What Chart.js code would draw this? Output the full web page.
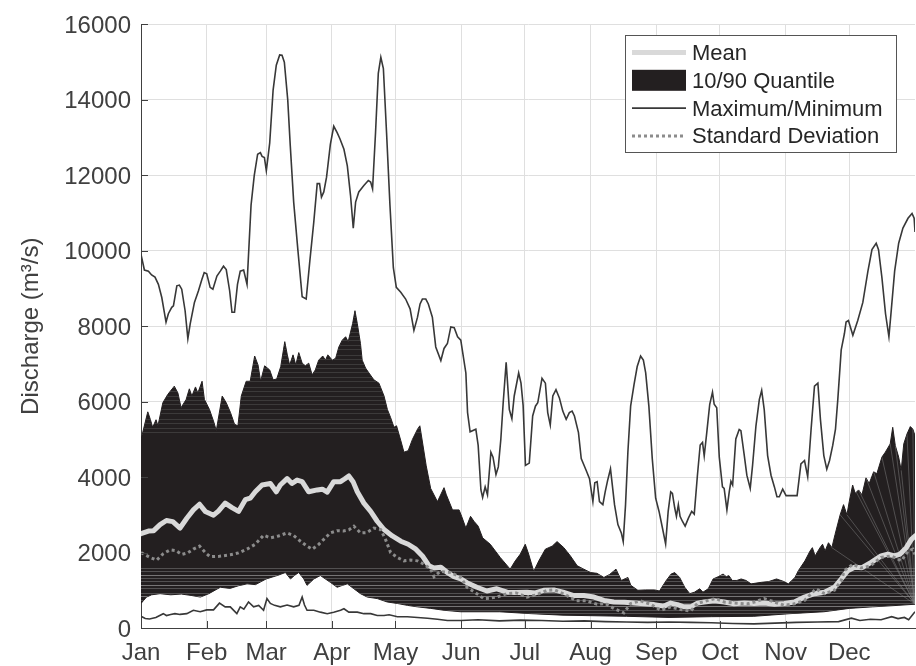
<!DOCTYPE html>
<html>
<head>
<meta charset="utf-8">
<title>Daily discharge statistics</title>
<script src="https://cdn.jsdelivr.net/npm/chart.js@4.4.1/dist/chart.umd.min.js"></script>
<style>
  html, body { margin: 0; padding: 0; background: #ffffff; }
  #wrap { width: 916px; height: 666px; }
</style>
</head>
<body>
<div id="wrap"><canvas id="chart" width="916" height="666"></canvas></div>
<script>
// Month labels on the day-of-year axis
const monthLabels = ['Jan','Feb','Mar','Apr','May','Jun','Jul','Aug','Sep','Oct','Nov','Dec'];
const monthStartDays = [1, 32, 60, 91, 121, 152, 182, 213, 244, 274, 305, 335];
const yTickStep = 2000;

// Daily discharge statistics, [day of year, m3/s]
const maximum = [
  [1,9900],[2.6,9490],[4.5,9460],[6,9360],[7.6,9300],[9.2,9110],[10.8,8760],[12.8,8110],[13.9,8330],[15.5,8500],
  [16.3,8540],[17.9,9070],[19.1,9090],[20.2,8980],[21.8,8410],[23.1,7670],[24.2,8060],[26.2,8630],[28.1,8940],[29.7,9240],
  [30.8,9420],[32,9390],[33.6,9030],[34.9,8980],[36.8,9330],[38.4,9460],[39.9,9590],[41.2,9500],[42.8,8940],[43.9,8370],
  [45.1,8370],[46.5,9110],[47.8,9460],[49.4,9490],[51,9110],[52.9,11210],[54.4,11990],[56,12560],[57.3,12600],[58.1,12500],
  [59.2,12470],[60.1,12120],[61.7,12860],[63.3,14260],[64.8,14920],[66.4,15190],[67.5,15180],[68.6,15000],[70.2,14000],[71.4,12780],
  [73,11290],[74.9,10070],[77,8780],[78.9,8720],[80.6,9720],[82.5,10770],[84.1,11780],[85.2,11780],[86.1,11420],[87.2,11560],
  [88.5,11950],[90.3,12820],[91.9,13300],[93.5,13130],[94.8,12970],[96.7,12690],[98.3,12250],[99.8,11470],[101.1,10600],[102.2,11290],
  [103.7,11560],[106.1,11730],[108.2,11860],[109.3,11820],[110.2,11640],[111.6,13130],[112.9,14700],[114.1,15130],[115.3,14830],[116.8,13130],
  [118.4,11210],[120,9550],[121.4,9030],[123.5,8900],[125.8,8720],[127.9,8460],[129.7,7890],[131.4,8240],[132.6,8590],[133.7,8720],
  [135.3,8720],[136.5,8590],[138.4,8240],[140,7450],[142.4,7090],[143.9,7410],[145.5,7540],[147.1,7980],[148.7,7960],[150.3,7720],
  [151.8,7630],[154.2,6760],[155,5710],[156.2,5200],[158.9,5270],[160,4840],[161.3,3660],[162.1,3460],[163.3,3740],[164.4,3530],
  [166,4660],[167,4530],[168.4,4070],[169.5,4270],[170.7,5010],[171.8,5970],[173.2,7040],[174.7,5790],[175.9,5550],[177,6150],
  [179.1,6760],[180.2,6490],[181.2,5900],[182.3,4310],[184.1,4370],[185.7,5620],[187,5880],[188.1,5970],[190.1,6620],[191.7,6490],
  [192.8,5710],[194,5380],[195.2,6150],[196.7,6320],[198.3,6100],[199.9,5750],[201.5,5530],[203,5710],[204.3,5750],[205.4,5620],
  [207.3,5180],[208.6,4490],[210.9,4180],[212.5,3960],[214.1,3350],[215,3850],[216.1,3880],[217.2,3350],[218.8,3270],[219.9,3610],
  [221,3900],[222.4,4220],[224.3,3270],[225.9,2740],[227.5,2520],[228.4,2290],[229.5,3270],[230.6,4660],[231.9,5880],[233.5,6450],
  [235,6930],[236.6,7210],[237.9,7100],[239,6760],[240.5,5880],[242.1,4490],[243.7,3440],[245.3,3090],[246.9,2650],[248.4,2230],
  [249.6,3090],[250.8,3610],[251.6,3570],[252.7,3180],[253.5,2960],[254.4,3270],[255.2,2960],[256.3,2830],[257.6,2700],[259.2,2920],
  [260.7,3090],[261.9,3020],[263.4,4050],[264.7,4850],[265.8,4920],[266.6,4560],[267.8,5180],[269.2,5930],[270.5,6250],[271.3,5930],
  [272.5,5840],[273.7,4530],[275.2,3740],[276,3700],[277.3,3130],[278.4,3610],[279.2,3890],[280,3790],[281.5,5010],[283.1,5260],
  [283.9,5230],[285.5,4570],[286.7,4050],[288.3,3700],[289.4,4310],[291,5360],[292.6,6060],[293.7,6300],[294.9,5790],[296.5,4570],
  [298.1,4050],[299.7,3740],[300.9,3480],[302,3480],[303.6,3680],[305.2,3510],[307.5,3510],[310.4,3510],[312.2,4350],[313.9,4440],
  [315.4,4010],[317,5270],[318.6,6410],[320.2,6490],[321.4,5530],[323,4570],[324.4,4210],[325.7,4440],[327.2,4840],[328.5,5270],
  [329.6,6060],[331.2,7370],[332.7,7800],[333.5,8110],[334.6,8150],[336.7,7760],[339,8150],[341.4,8630],[343.8,9460],[345.7,10030],
  [347.7,10200],[348.8,10030],[350.4,9290],[352.1,8330],[353.7,7720],[354.8,8420],[356.4,9460],[358.3,10200],[360.3,10600],[362.7,10860],
  [364.6,10990],[365.6,10860],[366,10500]
];

const minimum = [
  [1,310],[3,250],[5,240],[8,280],[11.5,380],[13,330],[15,360],[17,380],[19.4,360],[22.6,380],
  [25.7,470],[28.9,430],[32,480],[35.2,480],[38,660],[40.7,560],[43.1,560],[46.2,380],[47.8,560],[49.5,500],
  [51.7,690],[54.1,560],[56.5,600],[58.8,470],[60.4,780],[62,650],[64,600],[66.7,560],[69.9,610],[73,560],
  [75.5,600],[77,820],[78.1,610],[79.3,470],[82.5,470],[85.6,420],[88.8,380],[91.9,420],[95.1,470],[96.7,510],
  [99,420],[103,420],[106.1,380],[109.3,380],[112.4,330],[115.6,330],[118,350],[121.9,300],[126.6,300],[131.4,280],
  [136.1,260],[140.8,230],[145.5,200],[151.8,200],[160,220],[170,190],[180,210],[190,200],[200,180],[210,190],
  [220,170],[230,160],[240,150],[250,160],[260,150],[270,140],[280,120],[290,110],[300,130],[310,150],
  [320,160],[330,170],[336,260],[340,200],[345,230],[350,220],[355,300],[358,250],[361,280],[363,220],[366,430]
];

const quantile10 = [
  [1,650],[3.6,820],[6,880],[10,910],[15,880],[20,900],[25,860],[29,820],[33,910],[38.4,1080],
  [43,1050],[47,1120],[51,1170],[55,1150],[60,1300],[65.2,1390],[69.1,1470],[71.5,1300],[73.5,1400],[75.4,1470],
  [77.8,1300],[79.3,1130],[82.5,1300],[85.6,1390],[90.3,1210],[93.5,1080],[96,1130],[98.3,1170],[101.4,1040],[104.5,910],
  [107.7,820],[112.4,780],[117.1,690],[121.9,650],[126.6,600],[131.4,560],[137.6,520],[143.9,470],[151.8,430],[170,430],
  [185,380],[200,340],[230,310],[250,280],[270,300],[290,310],[307,380],[323,430],[335,520],[346,560],
  [358,600],[366,630]
];

const quantile90 = [
  [1,5000],[4.2,5730],[5.4,5530],[6.5,5320],[8.1,5520],[9,5360],[11.3,5970],[13.6,6190],[16,6360],[16.7,6410],
  [18.4,6230],[19.9,5840],[22.3,6060],[23.8,6340],[25,6150],[26.7,6390],[27.8,6230],[29.8,6540],[30.9,6060],[33.3,5790],
  [35.4,5450],[36.5,5230],[39.3,6150],[41.2,5970],[43.2,5710],[45.1,5400],[46.7,5360],[48.3,6150],[50.6,6540],[52.5,6540],
  [54.6,7210],[56.2,6970],[57.4,6540],[59.3,6950],[61.7,6840],[63.3,6580],[65,6600],[66.9,6930],[68.8,7590],[70,7240],
  [71.1,6970],[72.7,7240],[74,6970],[75.4,7300],[77,7020],[78.5,6950],[80.1,7020],[81.7,6710],[83.2,6840],[84.8,7100],
  [86.7,7210],[88,7100],[89.1,7240],[91.2,7100],[92.8,7150],[94.3,7450],[95.9,7630],[97.5,7720],[98.7,7590],[100.8,8070],
  [101.9,8410],[103,8070],[104.5,7540],[105.3,7100],[106.9,6890],[108.5,6760],[110.8,6580],[113.2,6490],[115.6,6150],[117.2,5790],
  [118.7,5580],[120.3,5320],[121.5,5360],[123.5,4970],[125,4660],[127,4700],[129,5000],[131.4,5270],[132.5,5360],[133.5,5010],
  [135.5,4300],[137.6,3700],[140.8,3350],[143.9,3720],[145,3530],[147.9,3130],[151,3130],[152.2,2960],[154.2,2650],[156.4,2960],
  [158,2830],[160,2700],[162.1,2390],[165.7,2220],[170.4,1870],[175.1,1560],[177.5,1780],[179.9,1960],[182.2,2220],[183.8,1960],
  [186.2,1500],[188.6,1780],[191.7,2090],[194.9,2170],[197.2,2290],[200.4,2130],[203.5,1910],[206.7,1650],[209.8,1560],[213,1470],
  [216,1450],[219.3,1340],[222,1420],[225,1560],[227.5,1260],[230.6,1340],[232,1130],[235.3,1000],[239,1010],[243.2,1010],
  [245.5,980],[248.7,1260],[251,1430],[252.7,1470],[255,1340],[257.4,1080],[259.8,910],[262,950],[264.5,1040],[266,950],
  [268.5,1040],[270.8,1300],[273.2,1360],[275.5,1430],[277,1360],[278.2,1390],[279.8,1260],[282,1260],[284,1300],[286.3,1260],
  [288.7,1170],[293.5,1210],[297,1230],[300.7,1300],[303.8,1240],[306.3,1170],[309.4,1340],[311,1520],[314.1,1780],[316.5,2040],
  [317.6,2130],[318.9,1910],[321.2,2130],[322.4,2220],[323.6,2040],[325.2,2260],[326.8,2130],[328.3,2480],[330.7,3000],[332.3,3270],
  [333.9,3000],[335,3350],[336.6,3790],[337.8,3570],[339.4,3660],[341,3530],[342.9,3980],[344.4,3830],[346.5,4140],[348,4090],
  [350.4,4530],[352,4660],[354.3,4880],[355.5,5320],[356.7,4840],[358.3,4530],[359.5,4180],[360.7,4880],[362.2,5140],[363.8,5340],
  [365,5270],[366,5100]
];

const mean = [
  [1,2500],[4.5,2570],[7,2580],[10,2740],[13,2850],[16,2820],[19.4,2650],[22.6,2910],[25.7,3130],[28.6,3280],
  [31.3,3090],[35.2,2990],[37.5,3100],[40.7,3310],[43.9,3190],[47,3090],[50.2,3400],[52.5,3440],[54.9,3610],[58.1,3790],
  [62,3830],[64.8,3610],[66.7,3790],[69.9,3960],[72.2,3830],[74.6,3920],[77,3880],[80.1,3610],[84.1,3660],[86.5,3680],
  [88.8,3600],[91.9,3880],[95.1,3880],[97,3950],[99,4030],[101,3880],[103,3610],[106.1,3310],[109.3,3090],[112.4,2830],
  [115.6,2610],[119.5,2440],[123.5,2300],[127,2220],[130.6,2090],[133.7,1910],[136.8,1650],[139.2,1590],[142.4,1610],[145.5,1470],
  [148.6,1360],[151.8,1300],[154.7,1200],[159.4,1080],[164.1,980],[168.8,1040],[173.6,950],[178,940],[183,950],[187,930],
  [190.9,1000],[195.7,1010],[200,950],[205.1,860],[209.8,860],[214.6,820],[219.3,730],[224,690],[229,680],[233.5,660],
  [238.2,640],[243,620],[247.6,580],[250.8,660],[254,620],[257,560],[260.2,560],[263.4,660],[266.6,690],[271.3,720],
  [276,690],[280.7,640],[285.5,660],[290.2,650],[295,660],[299.7,630],[304.4,650],[309.1,690],[313.9,820],[318.6,910],
  [323.3,950],[328,1080],[331.2,1300],[334.3,1520],[337.5,1610],[341,1600],[345.3,1740],[350,1910],[353.2,1960],[356.3,1910],
  [359,1960],[361.9,2130],[364.3,2350],[366,2440]
];

const standardDeviation = [
  [1,2000],[5.3,1870],[8.4,1800],[11.5,1970],[14.7,2070],[17.5,2050],[20.2,1950],[23,1990],[25.7,2090],[28.6,2170],
  [31.3,2000],[33.6,1890],[38,1900],[43.1,1940],[47,1990],[51,2090],[54.9,2220],[58.8,2460],[62,2390],[65.9,2440],
  [69.9,2520],[73,2450],[76.2,2300],[79.3,2170],[81.7,2090],[84.5,2200],[87.2,2350],[90.3,2520],[93.5,2580],[96.5,2570],
  [99,2600],[101.4,2700],[104.5,2520],[107.5,2530],[110.8,2650],[114,2610],[116.3,2350],[118.7,2000],[121.9,1870],[125,1780],
  [128,1800],[131.4,1780],[134.5,1690],[137.6,1560],[139.2,1360],[142,1500],[147.1,1470],[151.8,1340],[154.7,1080],[159.4,910],
  [162.6,780],[165.5,790],[168.8,820],[173.6,910],[178,930],[183,820],[187.5,880],[192.5,1000],[196,1010],[200.5,900],
  [206.4,720],[211,720],[216.1,630],[220,650],[224,520],[228.7,400],[231.9,650],[236.6,720],[241.3,630],[246.1,470],
  [250.8,560],[255.5,490],[260.2,450],[263.4,650],[268.1,730],[272,780],[276,690],[281,660],[287,640],[291,700],
  [294.9,780],[299.7,690],[304.4,600],[309.1,640],[313.9,730],[319.3,1040],[323.3,910],[328,1000],[331.2,1260],[332.7,1520],
  [336.7,1690],[340.6,1590],[345,1650],[350,1870],[354.8,1910],[359.6,1780],[362.7,2040],[365,2090],[366,1950]
];

const toPoints = (pairs) => pairs.map(([x, y]) => ({ x, y }));

const FONT = "'Liberation Sans', Arial, Helvetica, sans-serif";
const AXIS_COLOR = '#404040';
const GRID_COLOR = '#dfdfdf';
const BAND_COLOR = '#231f20';

// Faint mesh lines inside the quantile band, as left by the patch renderer
const bandTexture = {
  id: 'bandTexture',
  afterDatasetDraw(chart, args) {
    if (args.index !== 1) return;
    const { ctx, chartArea, scales } = chart;
    const upper = chart.getDatasetMeta(1).data;
    const lower = chart.getDatasetMeta(0).data;
    ctx.save();
    ctx.beginPath();
    upper.forEach((p, i) => (i ? ctx.lineTo(p.x, p.y) : ctx.moveTo(p.x, p.y)));
    for (let i = lower.length - 1; i >= 0; i--) ctx.lineTo(lower[i].x, lower[i].y);
    ctx.closePath();
    ctx.clip();
    ctx.lineWidth = 1;
    // horizontal streaks in the lower and upper parts of the band
    const steps = [3, 4, 3, 5, 3, 4, 3];
    const yLow = scales.y.getPixelForValue(1700);
    let k = 0;
    for (let y = chartArea.bottom; y > yLow; y -= steps[k++ % steps.length]) {
      ctx.strokeStyle = (k % 3 === 0) ? 'rgba(165,165,165,0.65)' : 'rgba(130,130,130,0.5)';
      ctx.beginPath();
      ctx.moveTo(chartArea.left, Math.round(y) + 0.5);
      ctx.lineTo(chartArea.right, Math.round(y) + 0.5);
      ctx.stroke();
    }
    const yHigh = scales.y.getPixelForValue(5200);
    const left = scales.x.getPixelForValue(1);
    const right = scales.x.getPixelForValue(135);
    k = 0;
    for (let y = yHigh; y > chartArea.top; y -= steps[k++ % steps.length] + 1) {
      ctx.strokeStyle = 'rgba(110,110,110,0.35)';
      ctx.beginPath();
      ctx.moveTo(left, Math.round(y) + 0.5);
      ctx.lineTo(right, Math.round(y) + 0.5);
      ctx.stroke();
    }
    // fan towards the last lower corner in December
    const last = lower[lower.length - 1];
    ctx.strokeStyle = 'rgba(140,140,140,0.45)';
    upper.forEach((p, i) => {
      if (i % 2 || quantile90[i][0] < 326) return;
      ctx.beginPath();
      ctx.moveTo(last.x, last.y);
      ctx.lineTo(p.x, p.y);
      ctx.stroke();
    });
    ctx.restore();
  }
};

// Inward tick marks on the left and bottom axes
const inwardTicks = {
  id: 'inwardTicks',
  afterDatasetsDraw(chart) {
    const { ctx, chartArea, scales } = chart;
    ctx.save();
    ctx.strokeStyle = AXIS_COLOR;
    ctx.lineWidth = 1;
    ctx.beginPath();
    scales.y.ticks.forEach(t => {
      const y = Math.round(scales.y.getPixelForValue(t.value)) + 0.5;
      ctx.moveTo(chartArea.left, y);
      ctx.lineTo(chartArea.left + 7, y);
    });
    scales.x.ticks.forEach(t => {
      const x = Math.round(scales.x.getPixelForValue(t.value)) + 0.5;
      ctx.moveTo(x, chartArea.bottom);
      ctx.lineTo(x, chartArea.bottom - 7);
    });
    ctx.stroke();
    ctx.restore();
  }
};

// Boxed legend in the upper right of the plot
const boxLegend = {
  id: 'boxLegend',
  afterDraw(chart) {
    const { ctx } = chart;
    const ds = chart.data.datasets;
    const entries = [ds[4], ds[1], ds[2], ds[5]];
    const box = { x: 625.5, y: 35.5, w: 271, h: 117 };
    ctx.save();
    ctx.fillStyle = '#ffffff';
    ctx.fillRect(box.x, box.y, box.w, box.h);
    ctx.strokeStyle = '#555555';
    ctx.lineWidth = 1;
    ctx.strokeRect(box.x, box.y, box.w, box.h);
    const x0 = 632, x1 = 686;
    entries.forEach((d, i) => {
      const y = 52.5 + i * 27.8;
      if (d.fill !== false && d.fill !== undefined) {
        ctx.fillStyle = d.backgroundColor;
        ctx.fillRect(x0, y - 10.5, x1 - x0, 21);
      } else {
        ctx.beginPath();
        ctx.strokeStyle = d.borderColor;
        ctx.lineWidth = d.borderWidth;
        ctx.setLineDash(d.borderDash || []);
        ctx.moveTo(x0, y);
        ctx.lineTo(x1, y);
        ctx.stroke();
        ctx.setLineDash([]);
      }
      ctx.fillStyle = '#262626';
      ctx.font = '22px ' + FONT;
      ctx.textBaseline = 'middle';
      ctx.textAlign = 'left';
      ctx.fillText(d.label, 692, y + 1.5);
    });
    ctx.restore();
  }
};

const lineBase = { pointRadius: 0, pointHoverRadius: 0, tension: 0, fill: false };

new Chart(document.getElementById('chart'), {
  type: 'line',
  data: {
    datasets: [
      { ...lineBase, label: '10% Quantile', data: toPoints(quantile10),
        borderColor: BAND_COLOR, borderWidth: 1, order: 4 },
      { ...lineBase, label: '10/90 Quantile', data: toPoints(quantile90),
        borderColor: BAND_COLOR, borderWidth: 1, backgroundColor: BAND_COLOR, fill: 0, order: 3 },
      { ...lineBase, label: 'Maximum/Minimum', data: toPoints(maximum),
        borderColor: '#383838', borderWidth: 1.6, order: 2 },
      { ...lineBase, label: 'Minimum', data: toPoints(minimum),
        borderColor: '#383838', borderWidth: 1.6, order: 2 },
      { ...lineBase, label: 'Mean', data: toPoints(mean),
        borderColor: '#d9d9d9', borderWidth: 5, borderJoinStyle: 'round', borderCapStyle: 'round', order: 1 },
      { ...lineBase, label: 'Standard Deviation', data: toPoints(standardDeviation),
        borderColor: '#8c8c8c', borderWidth: 3, borderDash: [3, 3], order: 0 }
    ]
  },
  options: {
    responsive: false,
    animation: false,
    devicePixelRatio: 1,
    layout: { padding: { top: 17, right: 1, left: 0, bottom: 0 } },
    plugins: {
      legend: { display: false },
      tooltip: { enabled: false },
      title: { display: false }
    },
    scales: {
      x: {
        type: 'linear',
        min: 1,
        max: 366,
        afterFit: (scale) => { scale.height = 38; },
        afterBuildTicks: (scale) => { scale.ticks = monthStartDays.map(v => ({ value: v })); },
        ticks: {
          autoSkip: false,
          maxRotation: 0,
          padding: 11,
          color: AXIS_COLOR,
          font: { family: FONT, size: 24 },
          callback: (value) => monthLabels[monthStartDays.indexOf(value)] ?? ''
        },
        grid: { color: GRID_COLOR, lineWidth: 1, drawTicks: false },
        border: { display: true, color: AXIS_COLOR, width: 1 }
      },
      y: {
        type: 'linear',
        min: 0,
        max: 16000,
        afterFit: (scale) => { scale.width = 141; },
        ticks: {
          stepSize: yTickStep,
          padding: 10,
          labelOffset: 2,
          color: AXIS_COLOR,
          font: { family: FONT, size: 24 },
          callback: (value) => String(value)
        },
        grid: { color: GRID_COLOR, lineWidth: 1, drawTicks: false },
        border: { display: true, color: AXIS_COLOR, width: 1 },
        title: {
          display: true,
          text: 'Discharge (m³/s)',
          color: AXIS_COLOR,
          font: { family: FONT, size: 24 },
          padding: { top: 17, bottom: 0 }
        }
      }
    }
  },
  plugins: [bandTexture, inwardTicks, boxLegend]
});
</script>
</body>
</html>
